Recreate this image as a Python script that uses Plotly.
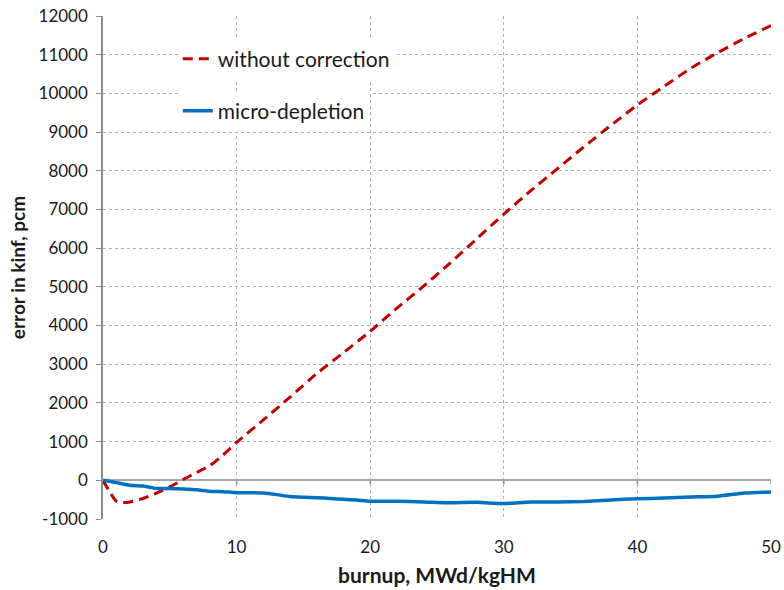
import plotly.graph_objects as go

# burnup (MWd/kgHM) and error in kinf (pcm)
burnup_red = [0, 0.5, 1.0, 1.5, 2.0, 3.0, 4.0, 5.0, 6.0, 7.0, 8.0, 9.0, 10, 12, 14, 16, 18, 20,
              22, 24, 26, 28, 30, 32, 34, 36, 38, 40, 42, 44, 46, 48, 50]
err_red = [0, -300, -540, -575, -560, -470, -330, -170, 20, 200, 380, 660, 980, 1560, 2150, 2760,
           3300, 3850, 4450, 5020, 5620, 6250, 6880, 7480, 8050, 8620, 9170, 9700, 10180, 10650,
           11050, 11420, 11750]

burnup_blue = [0, 1, 2, 3, 4, 5, 6, 7, 8, 9, 10, 11, 12, 13, 14, 15, 16, 17, 18, 19, 20,
               22, 24, 26, 28, 30, 32, 34, 36, 38, 40, 42, 44, 46, 48, 50]
err_blue = [0, -60, -130, -145, -210, -210, -225, -245, -280, -295, -320, -320, -330, -370, -420,
            -440, -450, -470, -490, -510, -540, -540, -560, -580, -570, -600, -560, -560, -545,
            -510, -475, -460, -430, -410, -330, -300]

x_ticks = [0, 10, 20, 30, 40, 50]
y_ticks = list(range(-1000, 12001, 1000))
y_ticktext = [str(v) for v in y_ticks]

FONT = "Lato"

fig = go.Figure()
fig.add_trace(go.Scatter(x=burnup_red, y=err_red, mode="lines", name="without correction",
                         legend="legend",
                         line=dict(color="#c00000", width=3, dash="10px,6px", shape="spline", smoothing=0.6)))
fig.add_trace(go.Scatter(x=burnup_blue, y=err_blue, mode="lines", name="micro-depletion",
                         legend="legend2",
                         line=dict(color="#0070c0", width=3.5, shape="spline", smoothing=0.6)))

# tick marks on the zero line (Excel style)
for t in x_ticks:
    fig.add_shape(type="line", x0=t, x1=t, y0=0, y1=-110, xref="x", yref="y",
                  line=dict(color="#909090", width=1.5), layer="below")

leg_common = dict(xanchor="left", yanchor="middle", bgcolor="white",
                  font=dict(size=21, family=FONT, color="#1a1a1a"), borderwidth=0)

fig.update_layout(
    width=784, height=590,
    margin=dict(l=103, r=13, t=16, b=71, autoexpand=False),
    paper_bgcolor="white", plot_bgcolor="white",
    font=dict(family=FONT, size=17, color="#1a1a1a"),
    showlegend=True,
    legend=dict(x=0.112, y=0.9145, **leg_common),
    legend2=dict(x=0.112, y=0.811, **leg_common),
    xaxis=dict(range=[0, 50], tickvals=x_ticks, ticktext=[str(v) for v in x_ticks],
               showgrid=True, gridcolor="#b0b0b0", automargin=False,
               griddash="dot", gridwidth=1, zeroline=False, showline=False,
               ticks="", tickfont=dict(size=17), ticklabelstandoff=16,
               title=dict(text="<b>burnup, MWd/kgHM</b>", font=dict(size=21), standoff=12)),
    yaxis=dict(range=[-1000, 12000], tickvals=y_ticks, ticktext=y_ticktext, showgrid=True,
               gridcolor="#b0b0b0", automargin=False,
               griddash="dot", gridwidth=1, zeroline=True, zerolinecolor="#a6a6a6",
               zerolinewidth=2, showline=True, linecolor="#8c8c8c", linewidth=1.5,
               ticks="outside", ticklen=5, tickcolor="#8c8c8c", tickfont=dict(size=17),
               ticklabelstandoff=5,
               title=dict(text="<b>error in kinf, pcm</b>", font=dict(size=19), standoff=8)),
)

fig.write_html("out.html")
